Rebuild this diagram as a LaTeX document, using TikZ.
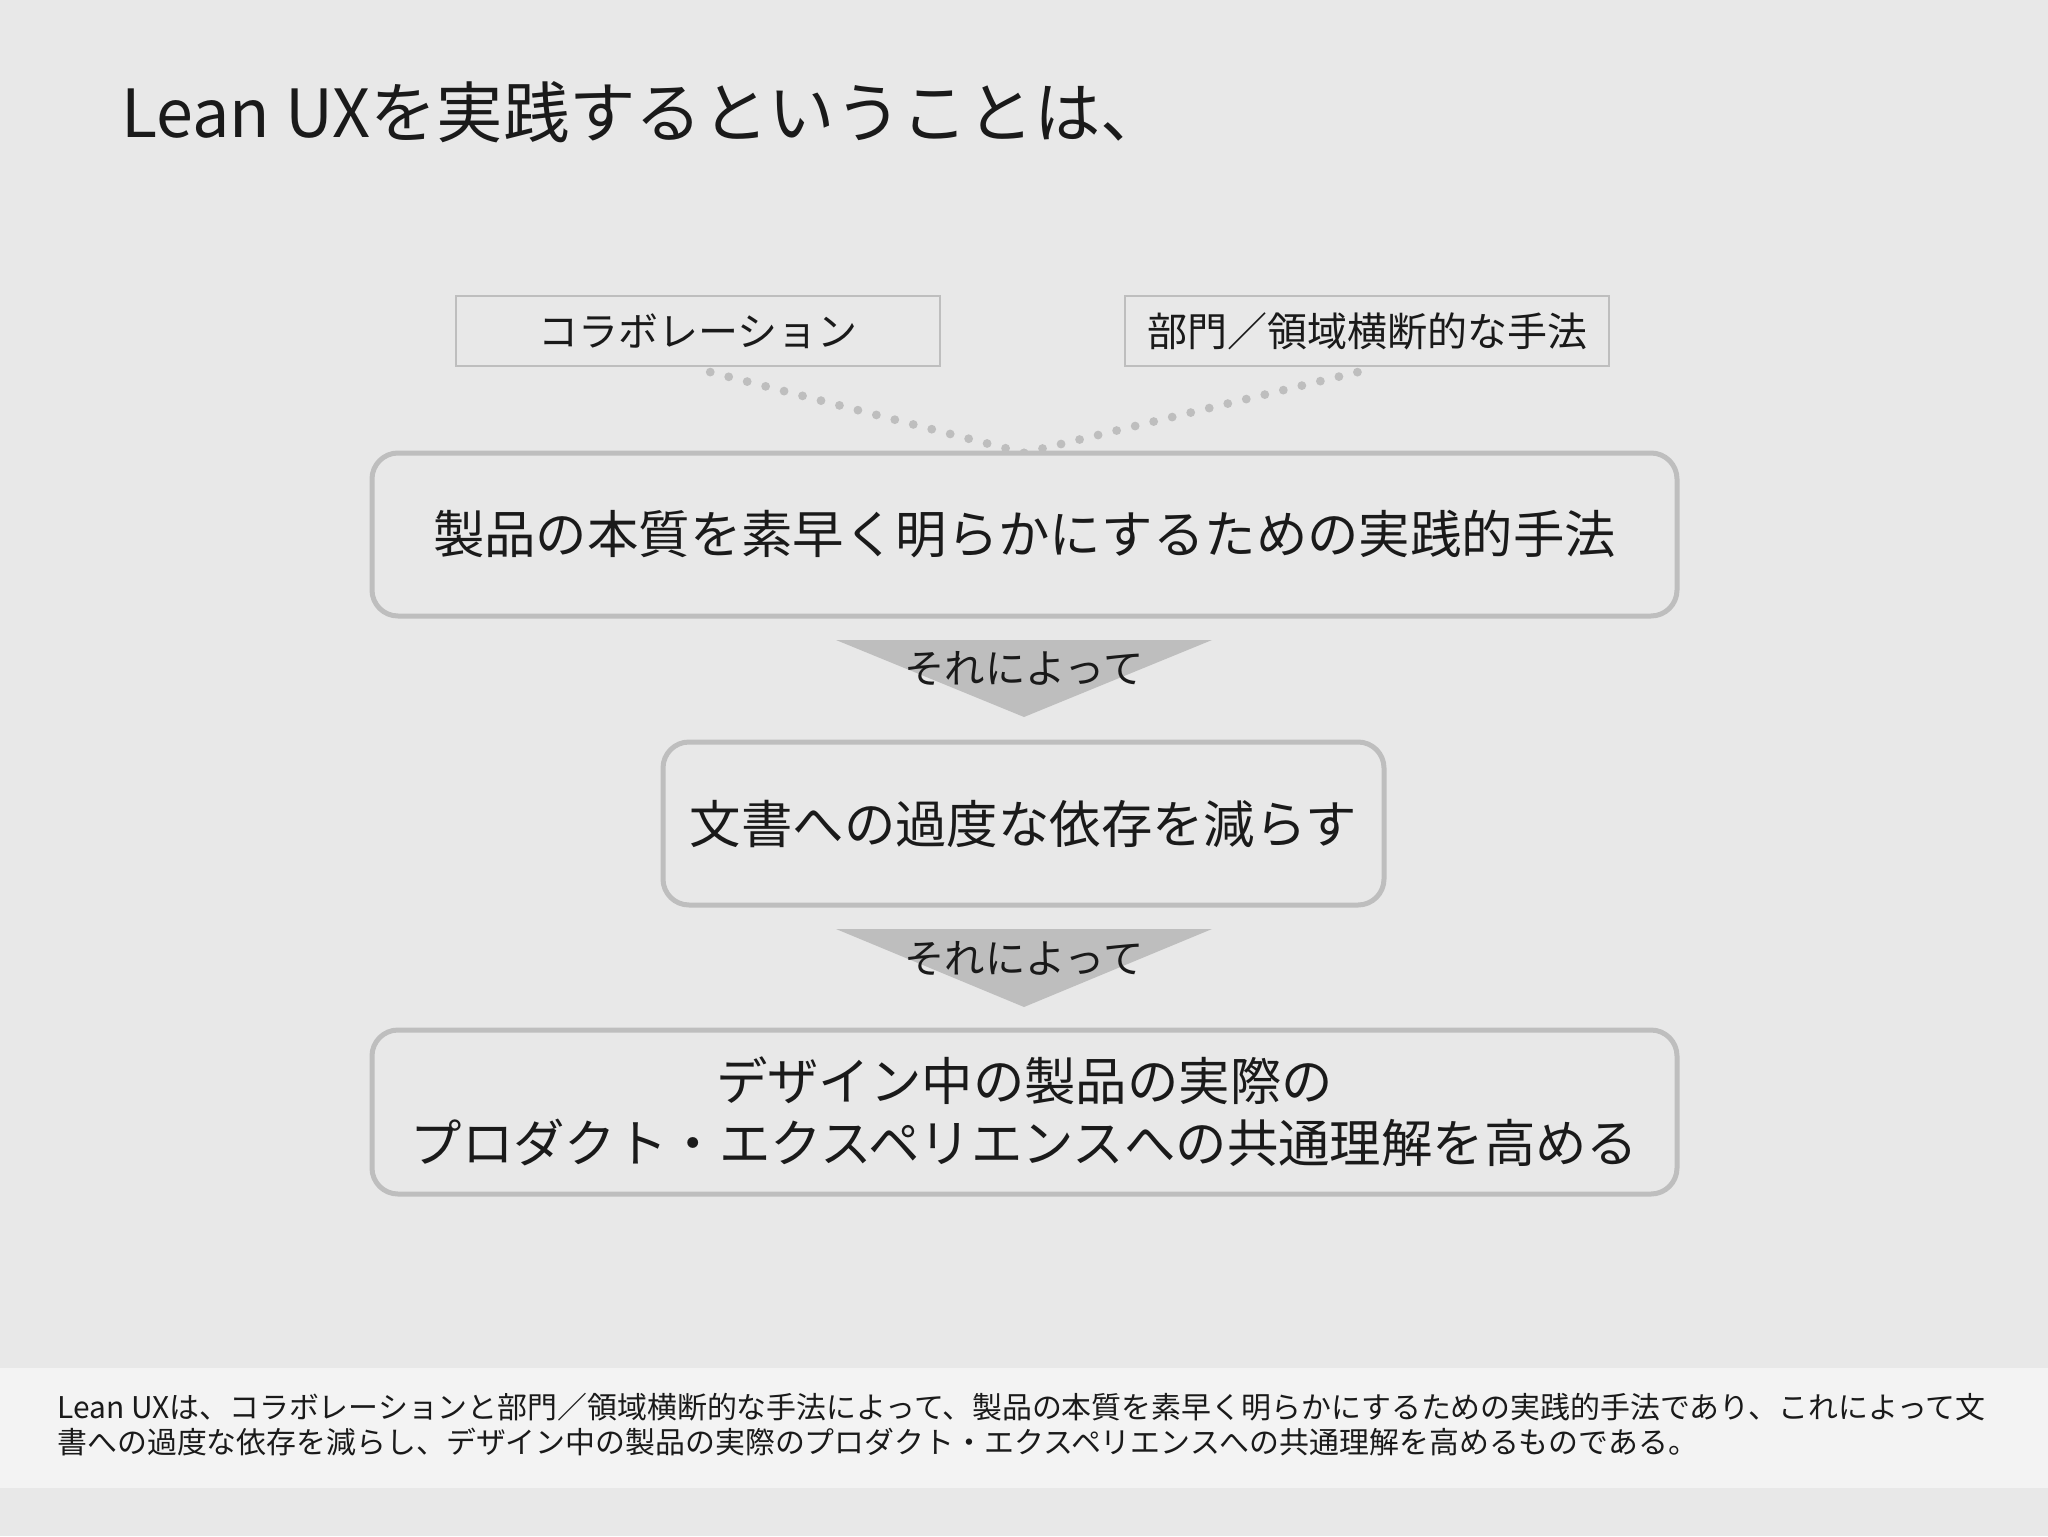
\documentclass[tikz,border=0pt]{standalone}
\usepackage{fontspec}
\setmainfont{Noto Sans CJK JP}
\definecolor{bg}{HTML}{E8E8E8}
\definecolor{band}{HTML}{F3F3F3}
\definecolor{edge}{HTML}{BEBEBE}
\definecolor{ink}{HTML}{1A1A1A}
\tikzset{
  smallbox/.style={draw=edge, line width=1.2pt, fill=bg, minimum width=242pt, minimum height=35pt, inner sep=0pt, text=ink, font=\fontsize{20}{24}\selectfont},
  bigbox/.style={draw=edge, line width=2.5pt, rounded corners=13pt, fill=bg, minimum height=81.5pt, inner sep=0pt, text=ink, font=\fontsize{25.7}{31}\selectfont, align=center},
  dots/.style={draw=edge, line width=4.4pt, line cap=round, dash pattern=on 0pt off 9.53pt},
  tri/.style={fill=edge},
  arrowlabel/.style={text=ink, font=\fontsize{20.2}{24}\selectfont, inner sep=0pt}
}
\begin{document}
\begin{tikzpicture}[x=0.5pt, y=-0.5pt]
\fill[bg] (0,0) rectangle (2048,1536);
\useasboundingbox (0,0) rectangle (2048,1536);
\fill[band] (0,1368) rectangle (2048,1488);
% title
\node[anchor=base west, inner sep=0pt, text=ink, font=\fontsize{33.2}{38}\selectfont] (title) at (121,137) {Lean UXを実践するということは、};
% small boxes
\node[smallbox] (collab) at (698,331) {コラボレーション};
\node[smallbox] (cross) at (1367,331) {部門／領域横断的な手法};
% dotted connectors
\coordinate (c1) at (710,372);
\coordinate (c2) at (1358,372);
\coordinate (apex) at (1024,453);
\draw[dots] (apex) -- (c1);
\draw[dots] (apex) -- (c2);
% big boxes
\node[bigbox, minimum width=652.5pt] (box1) at (1024.5,534.5) {\raisebox{1.5pt}{製品の本質を素早く明らかにするための実践的手法}};
\node[bigbox, minimum width=360.5pt] (box2) at (1023.5,823.5) {\raisebox{1.5pt}{文書への過度な依存を減らす}};
\node[bigbox, minimum width=652.5pt, minimum height=82pt] (box3) at (1024.5,1112) {\raisebox{2.2pt}{デザイン中の製品の実際の}\\\raisebox{2.2pt}{プロダクト・エクスペリエンスへの共通理解を高める}};
% arrows
\fill[tri] (836,640) -- (1212,640) -- (1024,717) -- cycle;
\node[arrowlabel] (lab1) at (1024,669) {それによって};
\fill[tri] (836,929) -- (1212,929) -- (1024,1007) -- cycle;
\node[arrowlabel] (lab2) at (1024,959) {それによって};
% bottom text
\node[anchor=west, inner sep=0pt, text=ink, align=left, font=\fontsize{14.95}{17.5}\selectfont] (summary) at (57,1425) {Lean UXは、コラボレーションと部門／領域横断的な手法によって、製品の本質を素早く明らかにするための実践的手法であり、これによって文\\書への過度な依存を減らし、デザイン中の製品の実際のプロダクト・エクスペリエンスへの共通理解を高めるものである。};
\end{tikzpicture}
\end{document}
